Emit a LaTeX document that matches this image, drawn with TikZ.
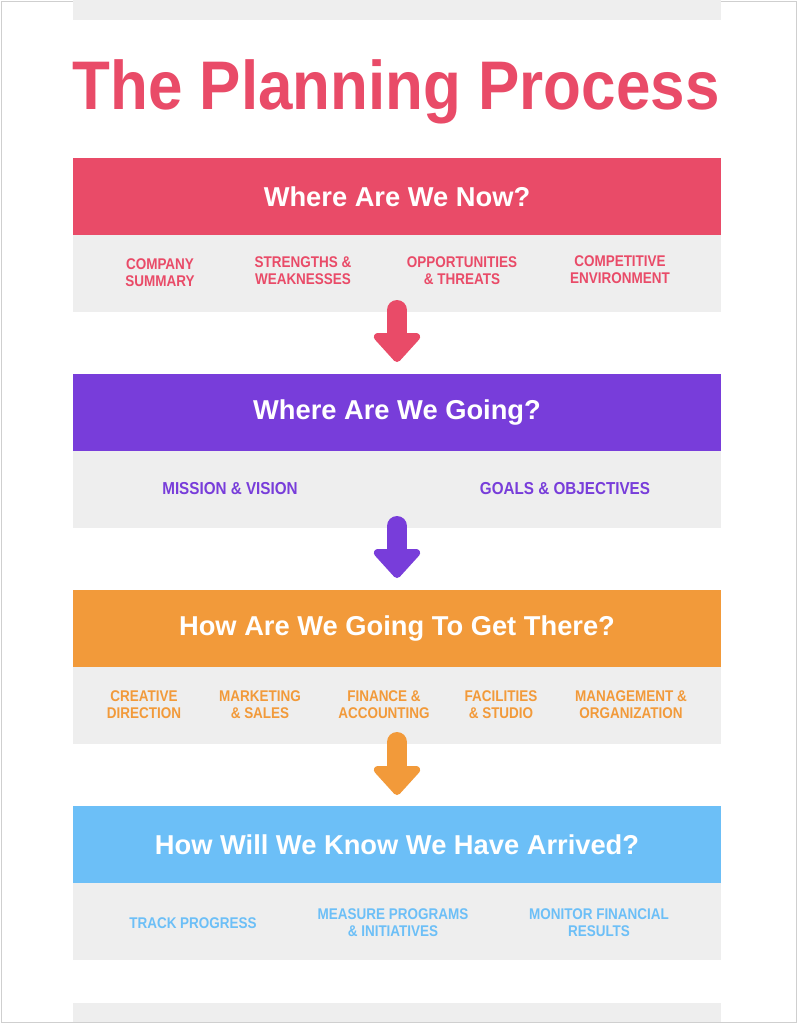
\documentclass[tikz,border=0pt]{standalone}
\usepackage{fontspec}
\setmainfont{Liberation Sans}
\newfontfamily\condfont[FakeStretch=0.87]{Liberation Sans}
\newfontfamily\widecondfont[FakeStretch=0.88]{Liberation Sans}
\newfontfamily\titlefont[FakeStretch=0.9]{Liberation Sans}
\usetikzlibrary{arrows.meta,calc}
\definecolor{cpink}{HTML}{E94B68}
\definecolor{cpurple}{HTML}{783DDA}
\definecolor{corange}{HTML}{F29A3A}
\definecolor{cblue}{HTML}{6CBFF7}
\definecolor{cgray}{HTML}{EEEEEE}
\definecolor{cborder}{HTML}{CFCFCF}
\tikzset{
  header/.style={rectangle, minimum width=648pt, minimum height=77pt, inner sep=0pt, outer sep=0pt, text=white, font=\bfseries\fontsize{27.3}{31}\selectfont},
  bodybox/.style={rectangle, fill=cgray, minimum width=648pt, minimum height=77pt, inner sep=0pt, outer sep=0pt},
  lab/.style={align=center, inner sep=0pt, font=\condfont\bfseries\fontsize{15.5}{17}\selectfont},
  biglab/.style={align=center, inner sep=0pt, font=\widecondfont\bfseries\fontsize{17.3}{19}\selectfont},
  flowarrow/.style={line width=20pt, line cap=round, -{Triangle[width=54pt,length=31pt,round]}},
}
\begin{document}
\begin{tikzpicture}[x=1pt,y=-1pt]
\useasboundingbox (0,0) rectangle (798,1024);
\fill[white] (0,0) rectangle (798,1024);
\draw[cborder, line width=1.2pt] (1.5,1.5) rectangle (796.5,1022.5);
\fill[cgray] (73,0) rectangle (721,20);
\fill[cgray] (73,1003) rectangle (721,1022);
\node[text=cpink, inner sep=0pt, font=\titlefont\bfseries\fontsize{68.8}{72}\selectfont] (title) at (396,92) {The Planning Process};

% Section 1
\node[header, fill=cpink] (h1) at (397,196.5) {Where Are We Now?};
\node[bodybox] (b1) at (397,273.5) {};
\node[lab, text=cpink] (l11) at (160,273) {COMPANY\\SUMMARY};
\node[lab, text=cpink] (l12) at (303,271) {STRENGTHS \&\\WEAKNESSES};
\node[lab, text=cpink] (l13) at (462,271) {OPPORTUNITIES\\\& THREATS};
\node[lab, text=cpink] (l14) at (620,270) {COMPETITIVE\\ENVIRONMENT};

% Section 2
\node[header, fill=cpurple] (h2) at (397,412.5) {Where Are We Going?};
\node[bodybox] (b2) at (397,489.5) {};
\node[biglab, text=cpurple] (l21) at (230,489) {MISSION \& VISION};
\node[biglab, text=cpurple] (l22) at (565,489) {GOALS \& OBJECTIVES};

% Section 3
\node[header, fill=corange] (h3) at (397,628.5) {How Are We Going To Get There?};
\node[bodybox] (b3) at (397,705.5) {};
\node[lab, text=corange] (l31) at (144,704.5) {CREATIVE\\DIRECTION};
\node[lab, text=corange] (l32) at (260,704.5) {MARKETING\\\& SALES};
\node[lab, text=corange] (l33) at (384,704.5) {FINANCE \&\\ACCOUNTING};
\node[lab, text=corange] (l34) at (501,704.5) {FACILITIES\\\& STUDIO};
\node[lab, text=corange] (l35) at (631,704.5) {MANAGEMENT \&\\ORGANIZATION};

% Section 4
\node[header, fill=cblue] (h4) at (397,844.5) {How Will We Know We Have Arrived?};
\node[bodybox] (b4) at (397,921.5) {};
\node[lab, text=cblue] (l41) at (193,923) {TRACK PROGRESS};
\node[lab, text=cblue] (l42) at (393,922.5) {MEASURE PROGRAMS\\\& INITIATIVES};
\node[lab, text=cblue] (l43) at (599,922.5) {MONITOR FINANCIAL\\RESULTS};

% Arrows
\draw[flowarrow, cpink] ($(b1.south)+(0pt,2pt)$) -- ($(h2.north)+(0pt,12pt)$);
\draw[flowarrow, cpurple] ($(b2.south)+(0pt,2pt)$) -- ($(h3.north)+(0pt,12pt)$);
\draw[flowarrow, corange] ($(b3.south)+(0pt,2pt)$) -- ($(h4.north)+(0pt,11pt)$);
\end{tikzpicture}
\end{document}
